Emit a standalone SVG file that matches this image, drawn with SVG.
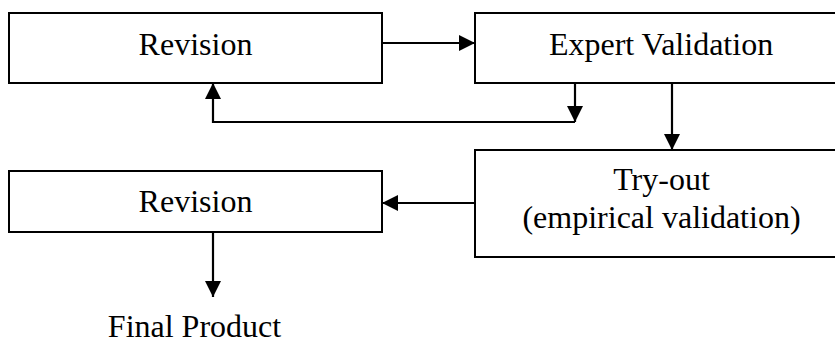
<svg xmlns="http://www.w3.org/2000/svg" width="835" height="343" viewBox="0 0 835 343">
  <style>
    .box { fill: #ffffff; stroke: #000000; stroke-width: 2; }
    .lbl { font-family: "Liberation Serif", "Times New Roman", serif; font-size: 32px; fill: #000000; text-anchor: middle; }
    .conn { fill: none; stroke: #000000; stroke-width: 2.2; }
  </style>
  <defs>
    <marker id="arr" markerUnits="userSpaceOnUse" markerWidth="18" markerHeight="18" refX="16" refY="8" orient="auto">
      <path d="M0,0 L16,8 L0,16 z" fill="#000000"/>
    </marker>
  </defs>
  <rect width="835" height="343" fill="#ffffff"/>

  <g id="revision1">
    <rect class="box" x="9" y="13" width="373" height="70"/>
    <text class="lbl" x="195.5" y="55">Revision</text>
  </g>
  <g id="expert-validation">
    <rect class="box" x="475" y="13" width="373" height="70"/>
    <text class="lbl" x="661" y="55">Expert Validation</text>
  </g>
  <g id="try-out">
    <rect class="box" x="475" y="150" width="373" height="107"/>
    <text class="lbl" x="661.5" y="190">Try-out</text>
    <text class="lbl" x="661.5" y="228">(empirical validation)</text>
  </g>
  <g id="revision2">
    <rect class="box" x="9" y="171" width="373" height="61"/>
    <text class="lbl" x="195.5" y="212">Revision</text>
  </g>
  <g id="final-product">
    <text class="lbl" x="194.5" y="337">Final Product</text>
  </g>

  <g id="connectors">
    <line class="conn" x1="382" y1="43" x2="475" y2="43" marker-end="url(#arr)"/>
    <line class="conn" x1="575" y1="83" x2="575" y2="122" marker-end="url(#arr)"/>
    <polyline class="conn" points="575,122 213,122 213,83" marker-end="url(#arr)"/>
    <line class="conn" x1="672" y1="83" x2="672" y2="150" marker-end="url(#arr)"/>
    <line class="conn" x1="475" y1="203" x2="382" y2="203" marker-end="url(#arr)"/>
    <line class="conn" x1="213" y1="232" x2="213" y2="297" marker-end="url(#arr)"/>
  </g>
</svg>
